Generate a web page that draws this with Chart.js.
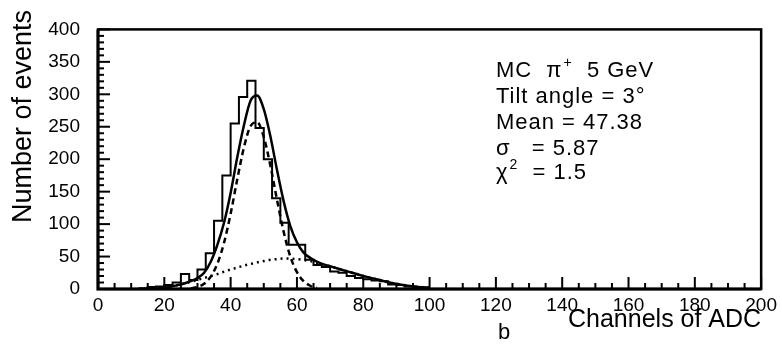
<!DOCTYPE html>
<html>
<head>
<meta charset="utf-8">
<script src="https://cdn.jsdelivr.net/npm/chart.js@4.4.0/dist/chart.umd.min.js"></script>
<style>
    html, body { margin: 0; padding: 0; background: #fff; }
</style>
</head>
<body>
<canvas id="myChart" width="782" height="351"></canvas>
<script>
// histogram: counts per ADC bin (bin width 2.5 channels, starting at 0)
const binWidth = 2.5;
const histCounts = [
    0, 0, 0, 0, 0, 0, 1, 3, 4, 6,
    10, 23, 14, 30, 55, 105, 175, 255, 296, 321,
    248, 200, 140, 102, 68, 68, 45, 37, 34, 27,
    25, 20, 17, 15, 13, 12, 7, 6, 4, 3
];

// total fit (solid)
const totalX = [18, 20, 22, 24, 26, 28, 30, 32, 34, 36, 38, 40, 42, 44, 46, 48, 50, 52, 54, 56,
    58, 60, 62, 64, 66, 68, 70, 72, 74, 76, 78, 80, 82, 84, 86, 88, 90, 92, 94, 96, 98, 100];
const totalY = [1, 2, 4, 6, 8.5, 12, 17, 25, 42, 68, 102, 148, 203, 252, 290, 298, 277, 235, 183, 135,
    97, 72, 56, 48, 42, 38, 35, 32, 29, 26, 23, 20, 17.5, 15, 12.5, 10, 8, 6, 4.7, 3.5, 2.7, 2];

// gaussian component (dashed)
const gausX = [28, 30, 32, 34, 36, 38, 40, 42, 44, 46, 48, 50, 52, 54, 56, 58, 60, 62, 64, 66];
const gausY = [1, 3, 8, 19, 39, 71, 116, 169, 218, 251, 257, 234, 190, 137, 88, 50, 26, 12, 5, 1.5];

// broad background component (dotted)
const tailX = [20, 22, 24, 26, 28, 30, 32, 34, 36, 38, 40, 42, 44, 46, 48, 50, 52, 54, 56, 58,
    60, 62, 64, 66, 68, 70, 72, 74, 76, 78, 80, 82, 84, 86, 88, 90, 92, 94, 96, 98, 100];
const tailY = [2, 4, 6, 8.5, 11, 14, 17, 20, 23, 26.5, 30, 33, 36, 38.5, 41, 43, 45, 46, 47, 46.7,
    46, 44.7, 43, 40.5, 38, 35, 32, 29, 26, 23, 20, 17.5, 15, 12.5, 10, 8, 6, 4.7, 3.5, 2.7, 2];

const xMajorStep = 20, xMinorStep = 5;
const yMajorStep = 50, yMinorStep = 10;

const yTitle = 'Number of events';

// text box: [y baseline, pieces]  (pieces: [text, superscript?])
const infoX = 120;
const infoLines = [
    [326, [['MC  \u03c0', false], ['+', true], ['  5 GeV', false]]],
    [287, [['Tilt angle = 3\u00b0', false]]],
    [246, [['Mean = 47.38', false]]],
    [207, [['\u03c3   = 5.87', false]]],
    [169, [['\u03c7', false], ['2', true], ['  = 1.5', false]]]
];

function toPoints(xs, ys) {
    return xs.map((x, i) => ({x: x, y: ys[i]}));
}

let histPoints = histCounts.map((c, i) => ({x: i * binWidth, y: c}));
histPoints.push({x: histCounts.length * binWidth, y: 0});

const FONT = "'Liberation Sans', Arial, sans-serif";

const frameAndText = {
    id: 'frameAndText',
    afterDraw(chart) {
        const c = chart.ctx;
        const a = chart.chartArea;
        const xs = chart.scales.x;
        const ys = chart.scales.y;
        c.save();
        c.strokeStyle = '#000';
        c.lineCap = 'butt';
        // frame
        c.lineWidth = 2.5;
        c.strokeRect(a.left, a.top, a.right - a.left, a.bottom - a.top);
        c.lineWidth = 3;
        c.beginPath();
        c.moveTo(a.left, a.top);
        c.lineTo(a.left, a.bottom);
        c.lineTo(a.right, a.bottom);
        c.stroke();

        // inward ticks
        c.lineWidth = 2;
        for (let v = xs.min; v <= xs.max; v += xMinorStep) {
            const px = xs.getPixelForValue(v);
            const len = v % xMajorStep === 0 ? 12 : 6;
            c.beginPath();
            c.moveTo(px, a.bottom);
            c.lineTo(px, a.bottom - len);
            c.stroke();
        }
        for (let v = ys.min; v <= ys.max; v += yMinorStep) {
            const py = ys.getPixelForValue(v);
            const len = v % yMajorStep === 0 ? 12 : 6;
            c.beginPath();
            c.moveTo(a.left, py);
            c.lineTo(a.left + len, py);
            c.stroke();
        }

        // y axis title, rotated
        c.fillStyle = '#000';
        c.save();
        c.translate(a.left - 74, a.bottom - 66);
        c.rotate(-Math.PI / 2);
        c.font = '27px ' + FONT;
        c.textAlign = 'left';
        c.textBaseline = 'middle';
        c.fillText(yTitle, 0, 0);
        c.restore();

        // info text
        c.textBaseline = 'alphabetic';
        c.textAlign = 'left';
        c.letterSpacing = '1px';
        infoLines.forEach(line => {
            let px = xs.getPixelForValue(infoX);
            const py = ys.getPixelForValue(line[0]);
            line[1].forEach(piece => {
                if (piece[1]) {
                    c.font = '14px ' + FONT;
                    c.fillText(piece[0], px + 1, py - 10);
                    px += c.measureText(piece[0]).width + 1;
                } else {
                    c.font = '22px ' + FONT;
                    c.fillText(piece[0], px, py);
                    px += c.measureText(piece[0]).width;
                }
            });
        });

        // panel letter
        c.letterSpacing = '0px';
        c.font = '22px ' + FONT;
        c.textAlign = 'center';
        c.fillText('b', xs.getPixelForValue(122.5), a.bottom + 50);
        c.restore();
    }
};

var ctx = document.getElementById('myChart').getContext('2d');

var myChart = new Chart(ctx, {
    type: 'line',
    data: {
        datasets: [
            {
                label: 'histogram',
                data: histPoints,
                stepped: 'after',
                borderColor: '#000',
                borderWidth: 2,
                pointRadius: 0,
                fill: false
            },
            {
                label: 'fit',
                data: toPoints(totalX, totalY),
                borderColor: '#000',
                borderWidth: 2.5,
                pointRadius: 0,
                cubicInterpolationMode: 'monotone',
                fill: false
            },
            {
                label: 'gauss',
                data: toPoints(gausX, gausY),
                borderColor: '#000',
                borderWidth: 2.5,
                borderDash: [6, 4],
                pointRadius: 0,
                cubicInterpolationMode: 'monotone',
                fill: false
            },
            {
                label: 'tail',
                data: toPoints(tailX, tailY),
                borderColor: '#000',
                borderWidth: 2.5,
                borderDash: [2, 4],
                pointRadius: 0,
                cubicInterpolationMode: 'monotone',
                fill: false
            }
        ]
    },
    options: {
        responsive: false,
        animation: false,
        layout: { padding: { top: 17, right: 19, bottom: 0, left: 0 } },
        plugins: {
            legend: { display: false },
            tooltip: { enabled: false }
        },
        scales: {
            x: {
                type: 'linear',
                min: 0,
                max: 200,
                grid: { display: false, drawTicks: false },
                border: { display: false },
                ticks: {
                    stepSize: xMajorStep,
                    color: '#000',
                    padding: 5,
                    maxRotation: 0,
                    font: { family: FONT, size: 19 }
                },
                title: {
                    display: true,
                    text: 'Channels of ADC',
                    align: 'end',
                    color: '#000',
                    font: { family: FONT, size: 25 },
                    padding: { top: 0, bottom: 16 }
                },
                afterFit: function (scale) { scale.height = 62; }
            },
            y: {
                min: 0,
                max: 400,
                grid: { display: false, drawTicks: false },
                border: { display: false },
                ticks: {
                    stepSize: yMajorStep,
                    color: '#000',
                    padding: 18,
                    font: { family: FONT, size: 19 }
                },
                afterFit: function (scale) { scale.width = 98; }
            }
        }
    },
    plugins: [frameAndText]
});
</script>
</body>
</html>
